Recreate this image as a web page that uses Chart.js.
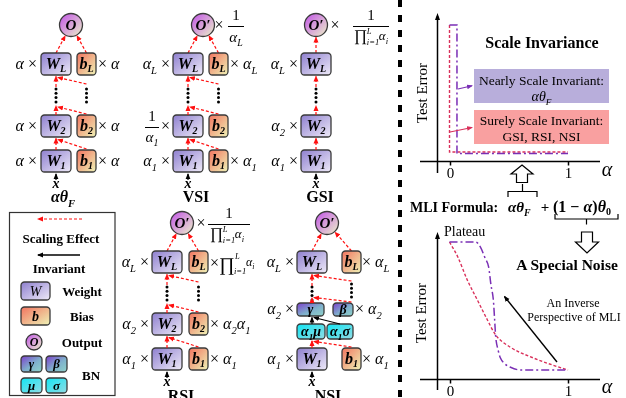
<!DOCTYPE html>
<html><head><meta charset="utf-8">
<script src="https://cdn.jsdelivr.net/npm/chart.js@4"></script>
<style>
html,body{margin:0;padding:0;background:#fff;width:626px;height:398px;overflow:hidden}
#wrap{position:relative;width:626px;height:398px}
canvas{position:absolute}
#c1{left:400px;top:0}
#c2{left:400px;top:190px}
#s{position:absolute;left:0;top:0}
</style></head><body>
<div id="wrap">
<canvas id="c1" width="226" height="190"></canvas>
<canvas id="c2" width="226" height="208"></canvas>
<svg id="s" width="626" height="398" font-size="16" xmlns="http://www.w3.org/2000/svg"></svg>
</div>
<script>
// ---- data ----
const alphaTopRed = [0, 0, 1];
const errTopRed = [1, 0.066, 0.066];
const alphaTopPurple = [0, 0.063, 0.063, 1];
const errTopPurple = [1, 1, 0.055, 0.055];
const alphaMliRed = [0, 0.07, 0.15, 0.235, 0.32, 0.39, 0.51, 0.71, 0.87, 1];
const errMliRed = [1, 0.891, 0.723, 0.577, 0.431, 0.321, 0.234, 0.153, 0.102, 0.066];
const alphaMliPurple = [0, 0.22, 0.26, 0.3, 0.33, 0.35, 0.37, 0.38, 0.39, 0.41, 0.43, 0.47, 0.51, 0.6, 1];
const errMliPurple = [1, 1, 0.964, 0.883, 0.818, 0.686, 0.577, 0.445, 0.307, 0.212, 0.153, 0.109, 0.088, 0.066, 0.066];
const alphaTicks = [0, 1];
const tickLabels = ['0', '1'];

const RED = '#d9305a', PURPLE = '#7a2fb5';

const axesPlugin = {
  id: 'axes',
  beforeDatasetsDraw(chart) {
    const {ctx, chartArea: ca, scales: {x, y}} = chart;
    const ax = Math.round(x.getPixelForValue(-0.105)) + 0.5;
    const ay = Math.round(y.getPixelForValue(0)) + 0.5;
    ctx.save();
    ctx.strokeStyle = '#000'; ctx.fillStyle = '#000'; ctx.lineWidth = 1.5;
    ctx.beginPath(); ctx.moveTo(ax, ca.bottom); ctx.lineTo(ax, ca.top + 3); ctx.stroke();
    ctx.beginPath(); ctx.moveTo(ax, ca.top); ctx.lineTo(ax - 2.5, ca.top + 7); ctx.lineTo(ax + 2.5, ca.top + 7); ctx.closePath(); ctx.fill();
    ctx.beginPath(); ctx.moveTo(ca.left, ay); ctx.lineTo(ca.right, ay); ctx.stroke();
    ctx.font = '15px "Liberation Serif", serif';
    ctx.textAlign = 'center'; ctx.textBaseline = 'top';
    alphaTicks.forEach((t, i) => {
      const px = Math.round(x.getPixelForValue(t)) + 0.5;
      ctx.beginPath(); ctx.moveTo(px, ay); ctx.lineTo(px, ay + 4); ctx.stroke();
      ctx.fillText(tickLabels[i], px, ay + 5);
    });
    ctx.restore();
  }
};

function pts(a, e) { return a.map((v, i) => ({x: v, y: e[i]})); }

function makeChart(id, datasets, padTop, padBottom, yMin, yMax) {
  return new Chart(document.getElementById(id), {
    type: 'line',
    data: {datasets},
    options: {
      responsive: false, animation: false, devicePixelRatio: 1,
      layout: {padding: {left: 20, right: 26, top: padTop, bottom: padBottom}},
      plugins: {legend: {display: false}, tooltip: {enabled: false}},
      scales: {
        x: {type: 'linear', min: -0.249, max: 1.27, display: false},
        y: {type: 'linear', min: yMin, max: yMax, display: false}
      },
      elements: {point: {radius: 0}}
    },
    plugins: [axesPlugin]
  });
}

makeChart('c1', [
  {data: pts(alphaTopPurple, errTopPurple), borderColor: PURPLE, borderWidth: 1.5, borderDash: [8, 3, 2, 3], tension: 0, fill: false},
  {data: pts(alphaTopRed, errTopRed), borderColor: RED, borderWidth: 1.4, borderDash: [3, 2], tension: 0, fill: false}
], 13, 17, -0.088, 1.088);

makeChart('c2', [
  {data: pts(alphaMliPurple, errMliPurple), borderColor: PURPLE, borderWidth: 1.5, borderDash: [8, 3, 2, 3], cubicInterpolationMode: 'monotone', fill: false},
  {data: pts(alphaMliRed, errMliRed), borderColor: RED, borderWidth: 1.4, borderDash: [3, 2], cubicInterpolationMode: 'monotone', fill: false}
], 42, 8, -0.080, 1.073);

// ---- diagram (SVG) ----
let S = '';
const R = (x, y, w, h, g) => S += `<rect x="${x}" y="${y}" width="${w}" height="${h}" rx="3.5" fill="url(#${g})" stroke="#3a3a3a" stroke-width="1.3"/>`;
const T = (x, y, c, cls, anchor, extra) => S += `<text x="${x}" y="${y}" class="${cls}" text-anchor="${anchor || 'middle'}" ${extra || ''}>${c}</text>`;
const RA = (x1, y1, x2, y2) => S += `<line x1="${x1}" y1="${y1}" x2="${x2}" y2="${y2}" stroke="#ff1010" stroke-width="1.2" stroke-dasharray="3 2" marker-end="url(#ar)"/>`;
const KA = (x1, y1, x2, y2, w) => S += `<line x1="${x1}" y1="${y1}" x2="${x2}" y2="${y2}" stroke="#000" stroke-width="${w || 1.2}" marker-end="url(#ak)"/>`;
const dots = (x, y) => { for (let k = 0; k < 4; k++) S += `<circle cx="${x}" cy="${y + k * 4.3}" r="1.5" fill="#000"/>`; };

function M(s, fs) {
  fs = fs || 16; let out = '', reset = 0, i = 0;
  while (i < s.length) {
    const c = s[i];
    if ((c === '_' || c === '^') && s[i + 1] === '{') {
      const j = s.indexOf('}', i), inner = s.slice(i + 2, j);
      const d = c === '_' ? fs * 0.28 : -fs * 0.38;
      out += `<tspan font-size="${(fs * 0.66).toFixed(1)}" dy="${(d + reset).toFixed(1)}">${inner}</tspan>`;
      reset = -d; i = j + 1;
    } else {
      let j = i;
      if ('×+−'.includes(c)) j = i + 1; else while (j < s.length && !'_^×+−'.includes(s[j])) j++;
      const st = '×+−'.includes(c) ? ' font-style="normal"' : '';
      out += `<tspan${st}${reset ? ` dy="${reset.toFixed(1)}"` : ''}>${s.slice(i, j)}</tspan>`;
      reset = 0; i = j;
    }
  }
  return out;
}
const L = (x, y, s, anchor, fs) => T(x, y, M(s, fs || 16), 'm', anchor, `font-size="${fs || 16}"`);

function toCircle(x1, y1, cx, cy, r) {
  const dx = x1 - cx, dy = y1 - cy, d = Math.hypot(dx, dy);
  return [cx + dx / d * (r + 1), cy + dy / d * (r + 1)];
}
function circ(cx, cy, r, lab, fs) {
  S += `<circle cx="${cx}" cy="${cy}" r="${r}" fill="url(#gO)" stroke="#3a3a3a" stroke-width="1.3"/>`;
  T(cx, cy + fs * 0.35, lab, 'bi', 'middle', `font-size="${fs}"`);
}
function prod(x, yb, fs, fsa) {
  T(x, yb, '∏', 'n', 'start', `font-size="${fs}"`);
  const lx = x + fs * 0.8;
  T(lx, yb - fs * 0.42, 'L', 'm', 'start', 'font-size="8.5"');
  T(lx, yb + fs * 0.26, 'i=1', 'm', 'start', 'font-size="8.5"');
  L(lx + 12, yb - 1, 'α_{i}', 'start', fsa);
}
function frac(cx, oy, w) {
  T(cx, oy - 5, '1', 'n', 'middle', 'font-size="15"');
  S += `<line x1="${cx - w / 2}" y1="${oy + 1.5}" x2="${cx + w / 2}" y2="${oy + 1.5}" stroke="#000" stroke-width="1"/>`;
}

function column(o) {
  const dy = o.dy, wcx = o.wx + 15, bcx = o.bx != null ? o.bx + 9.5 : null, oy = 25 + dy;
  circ(o.ox, oy, 11.5, o.prime ? 'O′' : 'O', 15);
  let p = toCircle(wcx, 53 + dy, o.ox, oy, 11.5); RA(wcx, 53 + dy, p[0], p[1]);
  if (bcx != null) { p = toCircle(bcx, 53 + dy, o.ox, oy, 11.5); RA(bcx, 53 + dy, p[0], p[1]); }
  [[53, 'L'], [115, '2'], [150, '1']].forEach(([y, s]) => {
    R(o.wx, y + dy, 30, 22, 'gW');
    T(wcx, y + dy + 16, `W<tspan font-size="10" dy="3">${s}</tspan>`, 'bi');
    if (bcx != null) { R(o.bx, y + dy, 19, 22, 'gB'); T(bcx, y + dy + 16, `b<tspan font-size="10" dy="3">${s}</tspan>`, 'bi'); }
  });
  dots(wcx, 89 + dy); if (bcx != null) dots(bcx, 89 + dy);
  RA(wcx, 87 + dy, wcx, 76.5 + dy);
  RA(wcx, 115 + dy, wcx, 106 + dy);
  RA(wcx, 150 + dy, wcx, 138.5 + dy);
  if (bcx != null) {
    RA(bcx, 84 + dy, wcx + 2, 77.5 + dy);
    RA(bcx, 114 + dy, wcx + 2, 107 + dy);
    RA(bcx, 149 + dy, wcx + 2, 139.5 + dy);
  }
  KA(wcx, 180 + dy, wcx, 174 + dy, 1.2);
  T(wcx, 188 + dy, 'x', 'bi', 'middle', 'font-size="14"');
}

// column 1: alpha theta_F
column({wx: 41, bx: 77, ox: 71, dy: 0, prime: false});
['L', '2', '1'].forEach((s, k) => { const yb = [69, 131, 166][k]; L(37, yb, 'α ×', 'end'); L(98, yb, '× α', 'start'); });
T(63, 202, M('αθ_{F}', 16), 'bi', 'middle');

// column 2: VSI
column({wx: 173, bx: 209, ox: 203, dy: 0, prime: true});
T(219, 30, '×', 'n', 'middle');
frac(236, 25, 16); L(236, 42, 'α_{L}', 'middle', 15);
L(170, 69, 'α_{L} ×', 'end'); L(230, 69, '× α_{L}', 'start');
frac(152, 126, 14); L(152, 142, 'α_{1}', 'middle', 15); T(170, 131, '×', 'n', 'end');
L(170, 166, 'α_{1} ×', 'end'); L(230, 166, '× α_{1}', 'start');
T(196, 202, 'VSI', 'b', 'middle', 'font-size="16"');

// column 3: GSI
column({wx: 301, bx: null, ox: 316, dy: 0, prime: true});
T(335, 30, '×', 'n', 'middle');
frac(371, 25, 36); prod(354, 41, 16, 13);
L(298, 69, 'α_{L} ×', 'end'); L(298, 131, 'α_{2} ×', 'end'); L(298, 166, 'α_{1} ×', 'end');
T(320, 202, 'GSI', 'b', 'middle', 'font-size="16"');

// column 4: RSI
column({wx: 152, bx: 189, ox: 182, dy: 198, prime: true});
T(201, 228, '×', 'n', 'middle');
frac(229, 223, 42); prod(210, 239, 16, 13);
L(149, 267, 'α_{L} ×', 'end'); L(149, 329, 'α_{2} ×', 'end'); L(149, 364, 'α_{1} ×', 'end');
T(210, 268, '×', 'n', 'start');
T(219, 271, '∏', 'n', 'start', 'font-size="19"');
T(235, 259, 'L', 'm', 'start', 'font-size="8.5"');
T(234, 274, 'i=1', 'm', 'start', 'font-size="8.5"');
L(246, 266, 'α_{i}', 'start', 12);
L(210, 329, '× α_{2}α_{1}', 'start'); L(210, 364, '× α_{1}', 'start');
T(181, 401, 'RSI', 'b', 'middle', 'font-size="16"');

// column 5: NSI
(function () {
  const wcx = 312, bcx = 351.5, ox = 327, oy = 223;
  circ(ox, oy, 11.5, 'O′', 15);
  let p = toCircle(wcx, 251, ox, oy, 11.5); RA(wcx, 251, p[0], p[1]);
  p = toCircle(bcx, 251, ox, oy, 11.5); RA(bcx, 251, p[0], p[1]);
  R(297, 251, 30, 22, 'gW'); T(wcx, 267, 'W<tspan font-size="10" dy="3">L</tspan>', 'bi');
  R(342, 251, 19, 22, 'gB'); T(bcx, 267, 'b<tspan font-size="10" dy="3">L</tspan>', 'bi');
  dots(wcx, 287); dots(bcx, 284);
  RA(wcx, 286, wcx, 274.5); RA(bcx, 281, wcx + 2, 275.5);
  R(297, 303, 27, 13, 'gG'); T(310.5, 314, 'γ', 'bi', 'middle', 'font-size="14"');
  R(333, 303, 20, 13, 'gG'); T(343, 314, 'β', 'bi', 'middle', 'font-size="14"');
  RA(wcx, 303, wcx, 298); RA(bcx, 302, wcx + 2, 297.5);
  R(297, 324, 28, 15, 'gM'); T(311, 336, M('α_{1}μ', 14), 'bi', 'middle', 'font-size="14"');
  R(327, 324, 26, 15, 'gM'); T(340, 336, M('α_{1}σ', 14), 'bi', 'middle', 'font-size="14"');
  KA(wcx, 324, wcx, 317.5, 1.1); KA(340, 324, wcx + 2, 317.5, 1.1);
  R(297, 348, 30, 22, 'gW'); T(wcx, 364, 'W<tspan font-size="10" dy="3">1</tspan>', 'bi');
  R(342, 348, 19, 22, 'gB'); T(bcx, 364, 'b<tspan font-size="10" dy="3">1</tspan>', 'bi');
  RA(wcx, 348, wcx, 341); RA(bcx, 347, wcx + 2, 341.5);
  KA(wcx, 378, wcx, 372, 1.2); T(wcx, 386, 'x', 'bi', 'middle', 'font-size="14"');
  L(294, 267, 'α_{L} ×', 'end'); L(294, 314, 'α_{2} ×', 'end'); L(294, 364, 'α_{1} ×', 'end');
  L(362, 267, '× α_{L}', 'start'); L(355, 314, '× α_{2}', 'start'); L(362, 364, '× α_{1}', 'start');
  T(328, 401, 'NSI', 'b', 'middle', 'font-size="16"');
})();

// legend
S += `<rect x="9.5" y="212.5" width="105.5" height="183" fill="none" stroke="#333" stroke-width="1.2"/>`;
RA(82, 219, 38, 219);
T(61, 243, 'Scaling Effect', 'b', 'middle', 'font-size="13"');
KA(80, 255, 38, 255, 1.5);
T(59, 273, 'Invariant', 'b', 'middle', 'font-size="13"');
R(21, 282, 29, 18, 'gW'); T(35.5, 296, 'W', 'm', 'middle', 'font-size="14"');
T(82, 296, 'Weight', 'b', 'middle', 'font-size="13"');
R(21, 307, 29, 18, 'gB'); T(35.5, 321, 'b', 'bi', 'middle', 'font-size="14"');
T(82, 321, 'Bias', 'b', 'middle', 'font-size="13"');
circ(34, 342, 8, 'O', 12);
T(82, 347, 'Output', 'b', 'middle', 'font-size="13"');
R(21, 356, 21, 16, 'gG'); T(31.5, 368, 'γ', 'bi', 'middle', 'font-size="13"');
R(46, 356, 21, 16, 'gG'); T(56.5, 368, 'β', 'bi', 'middle', 'font-size="13"');
R(21, 378, 21, 15, 'gM'); T(31.5, 390, 'μ', 'bi', 'middle', 'font-size="13"');
R(46, 378, 21, 15, 'gM'); T(56.5, 390, 'σ', 'bi', 'middle', 'font-size="13"');
T(91, 380, 'BN', 'b', 'middle', 'font-size="13"');

// divider
S += `<line x1="400" y1="0" x2="400" y2="398" stroke="#000" stroke-width="4" stroke-dasharray="7 8"/>`;

// right side annotations
T(422, 93, 'Test Error', 'n', 'middle', 'font-size="15" transform="rotate(-90 422 93)" dominant-baseline="central"');
T(421, 313, 'Test Error', 'n', 'middle', 'font-size="15" transform="rotate(-90 421 313)" dominant-baseline="central"');
T(607, 176, 'α', 'm', 'middle', 'font-size="20"');
T(607, 393, 'α', 'm', 'middle', 'font-size="20"');
T(542, 48, 'Scale Invariance', 'b', 'middle', 'font-size="16"');
S += `<rect x="474" y="69" width="135" height="34" fill="#b8aedb"/>`;
T(541.5, 85, 'Nearly Scale Invariant:', 'n', 'middle', 'font-size="13.5"');
T(541.5, 101, M('αθ_{F}', 14), 'm', 'middle', 'font-size="14"');
S += `<rect x="474" y="110" width="135" height="34" fill="#f9a0a0"/>`;
T(541.5, 125, 'Surely Scale Invariant:', 'n', 'middle', 'font-size="13.5"');
T(541.5, 141, 'GSI, RSI, NSI', 'n', 'middle', 'font-size="13.5"');
S += `<line x1="458" y1="89" x2="472" y2="85.8" stroke="${PURPLE}" stroke-width="1.1" marker-end="url(#ap)"/>`;
S += `<line x1="450" y1="132" x2="472" y2="127.5" stroke="${RED}" stroke-width="1.1" marker-end="url(#ac)"/>`;
// hollow up arrow + brace
S += `<polygon points="522,165 533,174 527.5,174 527.5,182.5 516.5,182.5 516.5,174 511,174" fill="#fff" stroke="#000" stroke-width="1.2"/>`;
S += `<path d="M508,197 L508,191.5 L537,191.5 L537,197 M522.5,191.5 L522.5,184" fill="none" stroke="#000" stroke-width="1.2"/>`;
T(410, 212, 'MLI Formula:', 'b', 'start', 'font-size="14"');
T(508, 212, M('αθ_{F}', 15), 'bi', 'start', 'font-size="15"');
T(545, 212, '+', 'b', 'middle', 'font-size="15"');
T(553, 212, `(1 − <tspan font-style="italic">α</tspan>)<tspan font-style="italic">θ</tspan><tspan font-size="10" dy="3">0</tspan>`, 'b', 'start', 'font-size="16"');
S += `<path d="M555,214 L555,219 L618,219 L618,214 M586.5,219 L586.5,224.5" fill="none" stroke="#000" stroke-width="1.2"/>`;
S += `<polygon points="581.5,232 592.5,232 592.5,242 598.5,242 587,253 575.5,242 581.5,242" fill="#fff" stroke="#000" stroke-width="1.2"/>`;
T(567, 270, 'A Special Noise', 'b', 'middle', 'font-size="15.5"');
T(444, 236, 'Plateau', 'n', 'start', 'font-size="14"');
T(573, 307, 'An Inverse', 'n', 'middle', 'font-size="12"');
T(574, 321, 'Perspective of MLI', 'n', 'middle', 'font-size="12"');
KA(557, 362, 504.5, 296.5, 1.4);

const defs = `<defs>
<style>
text{font-family:"Liberation Serif","DejaVu Serif",serif;fill:#000}
.m{font-style:italic}
.bi{font-style:italic;font-weight:bold}
.b{font-weight:bold}
</style>
<linearGradient id="gW" x1="0" y1="0" x2="1" y2="1"><stop offset="0" stop-color="#8e7fcf"/><stop offset="1" stop-color="#eeeaf8"/></linearGradient>
<linearGradient id="gB" x1="0" y1="0" x2="1" y2="1"><stop offset="0" stop-color="#f2735f"/><stop offset="1" stop-color="#eef3b6"/></linearGradient>
<linearGradient id="gO" x1="0" y1="0" x2="1" y2="1"><stop offset="0" stop-color="#c251e8"/><stop offset="1" stop-color="#ecf3c8"/></linearGradient>
<linearGradient id="gG" x1="0" y1="0" x2="1" y2="1"><stop offset="0" stop-color="#7c3fcc"/><stop offset="0.55" stop-color="#7fb0cc"/><stop offset="1" stop-color="#8fd3c8"/></linearGradient>
<linearGradient id="gM" x1="0" y1="0" x2="1" y2="1"><stop offset="0" stop-color="#10e6f4"/><stop offset="1" stop-color="#92dbe4"/></linearGradient>
<marker id="ar" markerUnits="userSpaceOnUse" markerWidth="6" markerHeight="6" refX="5" refY="3" orient="auto"><path d="M0,0.5 L6,3 L0,5.5z" fill="#ff1010"/></marker>
<marker id="ak" markerUnits="userSpaceOnUse" markerWidth="6" markerHeight="6" refX="5" refY="3" orient="auto"><path d="M0,0.6 L6,3 L0,5.4z" fill="#000"/></marker>
<marker id="ap" markerUnits="userSpaceOnUse" markerWidth="6" markerHeight="6" refX="5" refY="3" orient="auto"><path d="M0,0.6 L6,3 L0,5.4z" fill="${PURPLE}"/></marker>
<marker id="ac" markerUnits="userSpaceOnUse" markerWidth="6" markerHeight="6" refX="5" refY="3" orient="auto"><path d="M0,0.6 L6,3 L0,5.4z" fill="${RED}"/></marker>
</defs>`;
document.getElementById('s').innerHTML = defs + S;
</script>
</body></html>
